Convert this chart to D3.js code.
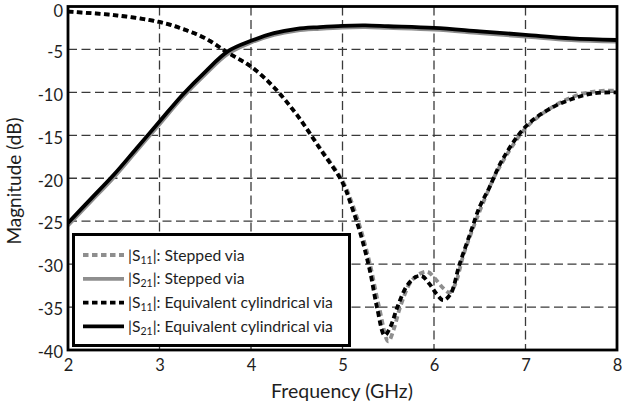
<!DOCTYPE html>
<html><head><meta charset="utf-8">
<script src="https://cdn.jsdelivr.net/npm/d3@7"></script>
<style>body{margin:0;background:#fff}svg{display:block}text{font-family:Lato,"Open Sans",sans-serif;fill:#1e1e1e}</style>
</head><body><svg id="c" width="622" height="409"></svg>
<script>
const xTicks = [2,3,4,5,6,7,8];
const yTicks = [0,-5,-10,-15,-20,-25,-30,-35,-40];

const s21EqF = [2,2.25,2.5,2.75,3,3.25,3.5,3.75,4,4.25,4.5,4.75,5,5.25,5.5,6,6.5,7,7.5,8];
const s21EqV = [-25.2,-22.4,-19.6,-16.5,-13.4,-10.3,-7.6,-5.2,-4.0,-3.1,-2.6,-2.4,-2.25,-2.2,-2.3,-2.5,-2.9,-3.3,-3.7,-3.9];
const s21StF = [2,2.25,2.5,2.75,3,3.25,3.5,3.75,4,4.25,4.5,4.75,5,5.25,5.5,6,6.5,7,7.5,8];
const s21StV = [-25.5,-22.7,-19.9,-16.8,-13.7,-10.6,-7.9,-5.5,-4.2,-3.3,-2.8,-2.6,-2.45,-2.4,-2.5,-2.7,-3.1,-3.5,-3.9,-4.1];

const s11EqF = [2,2.5,3,3.25,3.5,3.75,4,4.25,4.5,4.75,5,5.1,5.2,5.3,5.38,5.46,5.52,5.6,5.7,5.8,5.87,5.95,6.03,6.1,6.18,6.28,6.4,6.5,6.6,6.75,7,7.25,7.5,7.75,8];
const s11EqV = [-0.6,-1.0,-1.8,-2.6,-3.7,-5.4,-7.0,-9.4,-12.6,-16.5,-20.5,-23.3,-26.6,-30.8,-35.2,-38.3,-37.4,-35,-32.6,-31.5,-31.4,-32.3,-33.5,-34.2,-33.5,-30,-26.3,-23.3,-21.2,-17.8,-14,-12,-10.8,-10.1,-10];
const s11StF = [2,2.5,3,3.25,3.5,3.75,4,4.25,4.5,4.75,5,5.1,5.2,5.3,5.4,5.5,5.56,5.63,5.75,5.85,5.93,6.02,6.1,6.17,6.23,6.32,6.42,6.55,6.7,7,7.25,7.5,7.75,8];
const s11StV = [-0.6,-1.0,-1.8,-2.6,-3.7,-5.4,-7.0,-9.4,-12.6,-16.4,-20.3,-22.8,-26,-30,-35,-39,-37.6,-35,-32,-31.1,-30.9,-31.8,-32.8,-33.3,-32.4,-29,-26,-22.5,-19,-14.2,-12,-10.6,-9.9,-9.8];

const legendLabels = [
  {sub:"11", rest:": Stepped via"},
  {sub:"21", rest:": Stepped via"},
  {sub:"11", rest:": Equivalent cylindrical via"},
  {sub:"21", rest:": Equivalent cylindrical via"}
];

const svg = d3.select("#c");
const L=68, R=617, T=6.5, B=350;
const x = d3.scaleLinear().domain([2,8]).range([L,R]);
const y = d3.scaleLinear().domain([-40,0]).range([B,T]);

// grid
const grid = svg.append("g").attr("stroke","#3a3a3a").attr("stroke-width",1.3).attr("stroke-dasharray","9,4.5");
grid.selectAll(".v").data(xTicks.slice(1,-1)).join("line")
  .attr("x1",d=>x(d)).attr("x2",d=>x(d)).attr("y1",T).attr("y2",B);
grid.selectAll(".h").data(yTicks.slice(1,-1)).join("line")
  .attr("x1",L).attr("x2",R).attr("y1",d=>y(d)).attr("y2",d=>y(d));

// axes labels via d3 axes
const xAxis = svg.append("g").attr("transform",`translate(0,${B})`)
  .call(d3.axisBottom(x).tickValues(xTicks).tickSize(0).tickPadding(9).tickFormat(d3.format("d")));
const yAxis = svg.append("g").attr("transform",`translate(${L},2.5)`)
  .call(d3.axisLeft(y).tickValues(yTicks).tickSize(0).tickPadding(5).tickFormat(d=>d===0?"0":String(d)));
[xAxis,yAxis].forEach(a=>{a.select(".domain").remove();a.selectAll("text").style("font-size","16.5px").attr("fill","#1e1e1e").style("font-family","Lato, 'Open Sans', sans-serif");});
yAxis.selectAll(".tick").filter(d=>d===0).select("text").attr("dy","0.45em");

const line = d3.line().x(d=>x(d[0])).y(d=>y(d[1])).curve(d3.curveCatmullRom.alpha(0.5));
const zip=(f,v)=>f.map((d,i)=>[d,v[i]]);
const gray="#8e8e8e";
const series=[
  {f:s21StF,v:s21StV,c:gray,dash:null},
  {f:s11StF,v:s11StV,c:gray,dash:"5.5,3.5"},
  {f:s21EqF,v:s21EqV,c:"#000",dash:null},
  {f:s11EqF,v:s11EqV,c:"#000",dash:"5.5,3.5"}
];
svg.append("clipPath").attr("id","pc").append("rect").attr("x",L).attr("y",T).attr("width",R-L).attr("height",B-T);
svg.append("g").attr("clip-path","url(#pc)").selectAll("path").data(series).join("path")
  .attr("d",s=>line(zip(s.f,s.v))).attr("fill","none").attr("stroke",s=>s.c)
  .attr("stroke-width",3.8).attr("stroke-dasharray",s=>s.dash);

// frame
svg.append("rect").attr("x",L).attr("y",T).attr("width",R-L).attr("height",B-T)
  .attr("fill","none").attr("stroke","#000").attr("stroke-width",2.8);

// legend
const lg = svg.append("g");
lg.append("rect").attr("x",73.5).attr("y",234.5).attr("width",276).attr("height",111)
  .attr("fill","#fff").attr("stroke","#000").attr("stroke-width",3);
const legendStyles=[{c:gray,dash:"5.5,3.5"},{c:gray,dash:null},{c:"#000",dash:"5.5,3.5"},{c:"#000",dash:null}];
legendLabels.forEach((d,i)=>{
  const yy=255+i*23.8;
  lg.append("line").attr("x1",83).attr("x2",124).attr("y1",yy).attr("y2",yy)
    .attr("stroke",legendStyles[i].c).attr("stroke-width",3.8).attr("stroke-dasharray",legendStyles[i].dash);
  const t=lg.append("text").attr("x",128).attr("y",yy+5.5).style("font-size","15.7px");
  t.append("tspan").text("|S");
  t.append("tspan").text(d.sub).style("font-size","10.5px").attr("dy",3);
  t.append("tspan").text("|").attr("dy",-3);
  t.append("tspan").text(d.rest);
});

svg.append("text").attr("x",342).attr("y",398).attr("text-anchor","middle").style("font-size","19.5px").text("Frequency (GHz)");
svg.append("text").attr("transform","translate(21,181) rotate(-90)").attr("text-anchor","middle").style("font-size","19px").text("Magnitude (dB)");
</script></body></html>
